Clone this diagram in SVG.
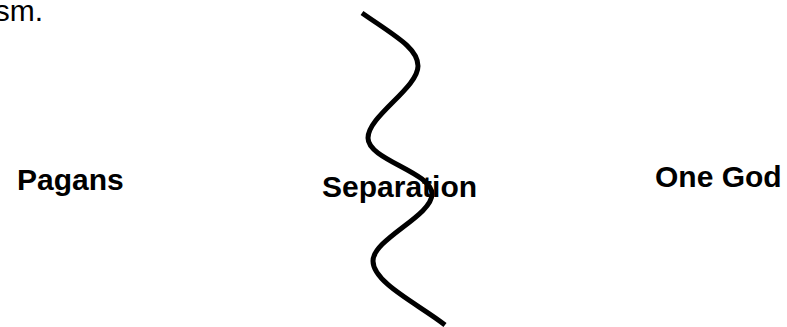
<svg xmlns="http://www.w3.org/2000/svg" width="787" height="327" viewBox="0 0 787 327">
<style>
.lbl{font-family:"Liberation Sans",Arial,sans-serif;font-weight:bold;font-size:30px;fill:#000}
.body{font-family:"Liberation Sans",Arial,sans-serif;font-size:30px;fill:#000}
.wave{fill:none;stroke:#000;stroke-width:5}
</style>
<rect width="787" height="327" fill="#fff"/>
<text class="body" x="43" y="21" text-anchor="end">sm.</text>
<g id="connectors">
<path class="wave" d="M362,13 C395,36 418,48 418,66 C418,88 368,116 368,138 C368,160 432,172 432,194 C432,216 373,239 373,261 C373,283 420,305 445,325"/>
</g>
<g id="pagans"><text class="lbl" x="17" y="190">Pagans</text></g>
<g id="separation"><text class="lbl" x="322" y="197">Separation</text></g>
<g id="onegod"><text class="lbl" x="655" y="187">One God</text></g>
</svg>
